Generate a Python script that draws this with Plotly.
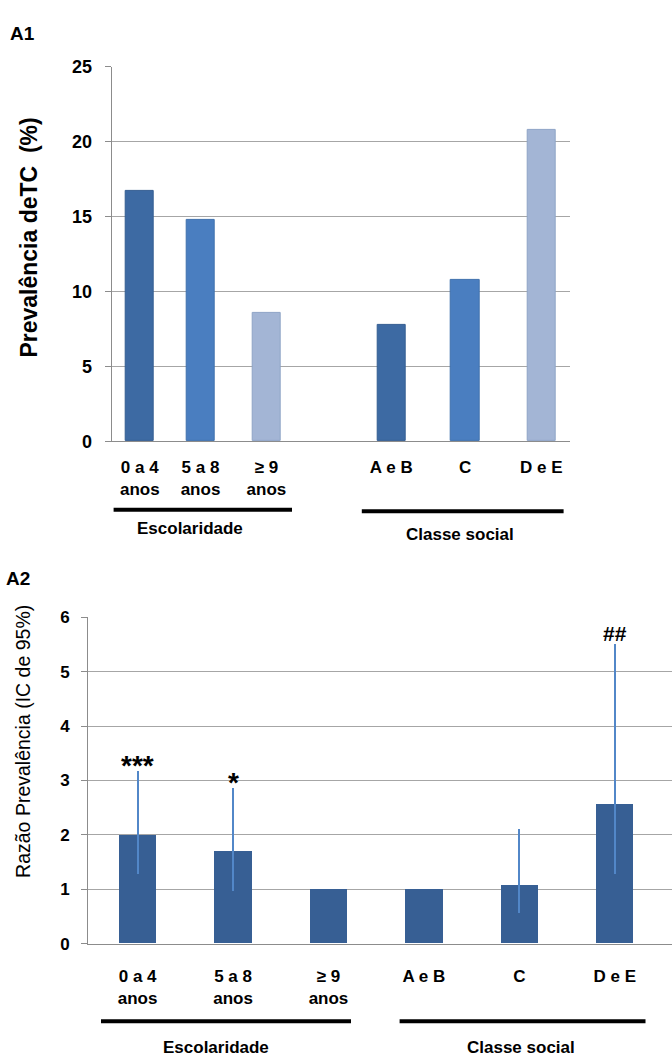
import plotly.graph_objects as go

# ---- data -------------------------------------------------------------
# Panel A1: prevalence of TC (%) by schooling and social class
a1_labels = ["0 a 4<br>anos", "5 a 8<br>anos", "≥ 9<br>anos", "A e B", "C", "D e E"]
a1_prev = [16.7, 14.8, 8.6, 7.8, 10.8, 20.8]

# Panel A2: prevalence ratio with 95% CI
a2_labels = ["0 a 4<br>anos", "5 a 8<br>anos", "≥ 9<br>anos", "A e B", "C", "D e E"]
a2_ratio = [2.0, 1.7, 1.0, 1.0, 1.07, 2.57]
a2_ci_low = [1.29, 0.96, 1.0, 1.0, 0.57, 1.28]
a2_ci_high = [3.17, 2.86, 1.0, 1.0, 2.10, 5.50]
a2_marks = ["***", "*", "", "", "", "##"]

# ---- layout constants ---------------------------------------------------
W, H = 672, 1058
SANS = "Liberation Sans, Arial, sans-serif"
GRID = "#a6a6a6"
AXIS = "#8c8c8c"

# bar slots on the A1 axis (irregular spacing, two groups)
a1_slots = [0.49, 1.55, 2.70, 4.88, 6.17, 7.50]
a1_groups = [[0, 1, 2], [3, 4, 5]]
a1_colors = ["#3d6aa3", "#4a7ec0", "#a3b5d5"] * 2
a1_edges = ["#345d92", "#3f70ad", "#8ea4c6"] * 2
a1_bounds = [(a1_slots[g[i]] + a1_slots[g[i + 1]]) / 2
             for g in a1_groups for i in range(len(g) - 1)]
a2_range = [-0.52, 5.6]
a2_bounds = [i + 0.5 for i in range(len(a2_labels) - 1)]


def px_x(v):
    return v / W


def px_y(v):
    return 1 - v / H


fig = go.Figure()

fig.add_trace(go.Bar(
    x=a1_slots, y=a1_prev, width=0.49,
    marker=dict(color=a1_colors, line=dict(color=a1_edges, width=1)),
    xaxis="x", yaxis="y", showlegend=False, hoverinfo="skip"))

fig.add_trace(go.Bar(
    x=a2_labels, y=a2_ratio, width=0.39,
    marker=dict(color="#375f94", line=dict(width=0)),
    error_y=dict(type="data", symmetric=False,
                 array=[h - r for h, r in zip(a2_ci_high, a2_ratio)],
                 arrayminus=[r - l for r, l in zip(a2_ratio, a2_ci_low)],
                 color="#5287c8", thickness=2.2, width=0),
    xaxis="x2", yaxis="y2", showlegend=False, hoverinfo="skip"))

# significance marks sit just above the upper CI limit
for lab, top, mark in zip(a2_labels, a2_ci_high, a2_marks):
    if not mark:
        continue
    star = mark.startswith("*")
    fig.add_annotation(
        text=mark, x=lab, y=top, xref="x2", yref="y2", showarrow=False,
        xanchor="center", yanchor="bottom", yshift=-12 if star else -3,
        font=dict(family=SANS, size=28 if star else 21, color="black",
                  weight="bold"))

tick_font = dict(family=SANS, size=17, color="black", weight="bold")
ytick_font = dict(family=SANS, size=18, color="black", weight="bold")

fig.update_layout(
    width=W, height=H,
    margin=dict(l=0, r=0, t=0, b=0),
    paper_bgcolor="white", plot_bgcolor="white",
    bargap=0,
    # A1 axes
    xaxis=dict(
        domain=[px_x(111.7), px_x(570)], range=[0, 8],
        tickmode="array", tickvals=a1_slots, ticktext=a1_labels,
        ticks="", showgrid=False, zeroline=False,
        showline=True, linecolor=AXIS, linewidth=1,
        tickfont=tick_font, ticklabelstandoff=10,
    ),
    xaxis3=dict(
        overlaying="x", anchor="y", range=[0, 8],
        tickmode="array", tickvals=a1_bounds, showticklabels=False,
        ticks="outside", ticklen=6, tickcolor=AXIS,
        showgrid=False, zeroline=False, showline=False,
    ),
    yaxis=dict(
        domain=[px_y(439.5), px_y(58)], range=[0, 25],
        tickvals=[0, 5, 10, 15, 20, 25],
        showgrid=True, gridcolor=GRID, gridwidth=1, zeroline=False,
        showline=True, linecolor=AXIS, linewidth=1,
        ticks="outside", ticklen=6, tickcolor=AXIS,
        tickfont=ytick_font, ticklabelstandoff=9,
    ),
    # A2 axes
    xaxis2=dict(
        domain=[px_x(88), 1.0], range=a2_range, type="category",
        ticks="", showgrid=False, zeroline=False,
        showline=True, linecolor=AXIS, linewidth=1,
        tickfont=tick_font, ticklabelstandoff=17, anchor="y2",
    ),
    xaxis4=dict(
        overlaying="x2", anchor="y2", range=a2_range,
        tickmode="array", tickvals=a2_bounds, showticklabels=False,
        ticks="outside", ticklen=6, tickcolor=AXIS,
        showgrid=False, zeroline=False, showline=False,
    ),
    yaxis2=dict(
        domain=[px_y(951.7), px_y(619)], range=[0, 6],
        tickvals=[0, 1, 2, 3, 4, 5, 6], anchor="x2",
        showgrid=True, gridcolor=GRID, gridwidth=1, zeroline=False,
        showline=True, linecolor=AXIS, linewidth=1,
        ticks="outside", ticklen=6, tickcolor=AXIS,
        tickfont=dict(family=SANS, size=17, color="black", weight="bold"),
        ticklabelstandoff=8,
    ),
)

# group underlines and captions
rules = [
    (113.6, 292, 509.5), (361.8, 563.6, 511),
    (101, 351, 1030.7), (399.6, 645.5, 1030.7),
]
for x0, x1, y in rules:
    fig.add_shape(type="line", xref="paper", yref="paper",
                  x0=px_x(x0), x1=px_x(x1), y0=px_y(y), y1=px_y(y),
                  line=dict(color="black", width=4))

captions = [
    ("Escolaridade", 190, 528), ("Classe social", 460, 535),
    ("Escolaridade", 216, 1057), ("Classe social", 521, 1057),
]
for txt, x, y in captions:
    fig.add_annotation(text=txt, xref="paper", yref="paper",
                       x=px_x(x), y=px_y(y), showarrow=False,
                       xanchor="center", yanchor="middle",
                       font=dict(family=SANS, size=17, color="black", weight="bold"))

# panel letters
for txt, x, y in [("A1", 22, 24), ("A2", 18, 579)]:
    fig.add_annotation(text=txt, xref="paper", yref="paper",
                       x=px_x(x), y=px_y(y), showarrow=False,
                       xanchor="center", yanchor="middle",
                       font=dict(family=SANS, size=19, color="black", weight="bold"))

# axis titles
fig.add_annotation(text="Prevalência deTC  (%)", xref="paper", yref="paper",
                   x=px_x(29), y=px_y(232), showarrow=False, textangle=-90,
                   xanchor="center", yanchor="middle",
                   font=dict(family=SANS, size=23, color="black", weight="bold"))
fig.add_annotation(text="Razão Prevalência (IC de 95%)", xref="paper", yref="paper",
                   x=px_x(23), y=px_y(746), showarrow=False, textangle=-90,
                   xanchor="center", yanchor="middle",
                   font=dict(family=SANS, size=19.5, color="black"))

fig.write_html("out.html")
